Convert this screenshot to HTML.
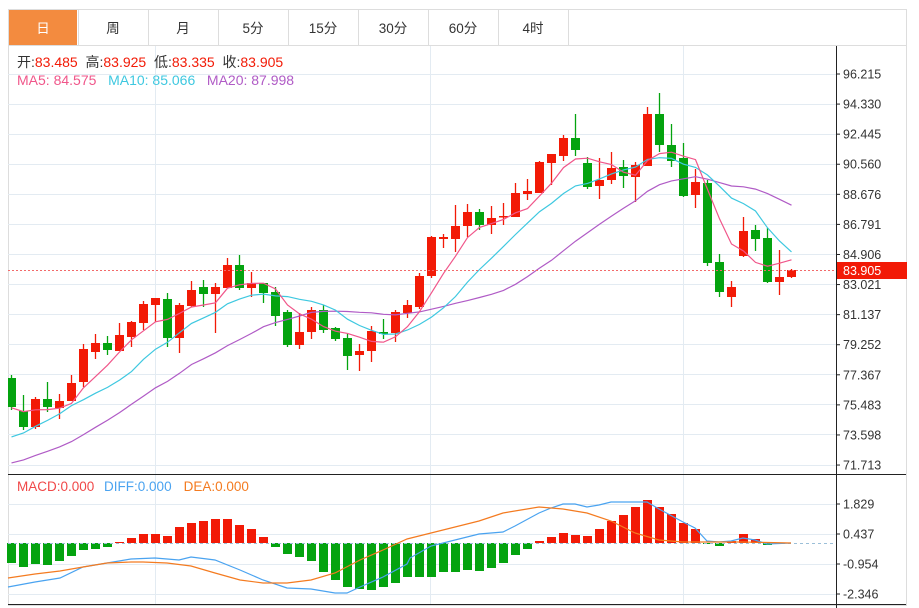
<!DOCTYPE html>
<html><head><meta charset="utf-8"><style>
body{margin:0;background:#fff;width:919px;height:608px;overflow:hidden;font-family:"Liberation Sans","Noto Sans CJK SC",sans-serif}
svg{position:absolute;left:0;top:0}
</style></head><body>
<svg id="s" width="919" height="608" xmlns="http://www.w3.org/2000/svg" font-family="Liberation Sans, Noto Sans CJK SC, sans-serif"></svg>
<script>
const S=document.getElementById('s');let h='';
h+='<rect x="8.5" y="9.5" width="898" height="596" fill="#fff" stroke="#ddd"/>';
h+='<line x1="8" y1="45.5" x2="907" y2="45.5" stroke="#ddd"/>';
const tabs=['日','周','月','5分','15分','30分','60分','4时'];
tabs.forEach((t,i)=>{const x=8+i*70;
 if(i==0)h+='<rect x="9" y="10" width="68" height="35" fill="#f38b3f"/>';
 h+='<line x1="'+(x+70.5)+'" y1="10" x2="'+(x+70.5)+'" y2="45" stroke="#ddd"/>';
 h+='<text x="'+(x+35)+'" y="33" font-size="13.5" text-anchor="middle" fill="'+(i==0?'#fff':'#333')+'">'+t+'</text>';});
[74,104,134,164,194,224,254,284,314,344,374,404,434,465].forEach(y=>h+='<line x1="8" y1="'+(y+.5)+'" x2="836" y2="'+(y+.5)+'" stroke="#e3ebf2"/>');
[504,534,564,594].forEach(y=>h+='<line x1="8" y1="'+(y+.5)+'" x2="836" y2="'+(y+.5)+'" stroke="#e3ebf2"/>');
[155,430,683].forEach(x=>h+='<line x1="'+(x+.5)+'" y1="46" x2="'+(x+.5)+'" y2="605" stroke="#e3ebf2"/>');
h+='<line x1="8" y1="474.5" x2="906" y2="474.5" stroke="#222"/><line x1="8" y1="604.5" x2="906" y2="604.5" stroke="#222"/>';
h+='<line x1="836.5" y1="46" x2="836.5" y2="608" stroke="#222"/>';
const lab=['96.215','94.330','92.445','90.560','88.676','86.791','84.906','83.021','81.137','79.252','77.367','75.483','73.598','71.713'];
lab.forEach((l,i)=>{const y=74+i*30.08;h+='<line x1="836" y1="'+y+'" x2="840" y2="'+y+'" stroke="#222"/><text x="843" y="'+(y+4.5)+'" font-size="12.5" fill="#333">'+l+'</text>';});
[['1.829',504],['0.437',534],['-0.954',564],['-2.346',594]].forEach(a=>{h+='<line x1="836" y1="'+a[1]+'" x2="840" y2="'+a[1]+'" stroke="#222"/><text x="843" y="'+(a[1]+4.5)+'" font-size="12.5" fill="#333">'+a[0]+'</text>';});
const C=[[378,407,375,410,0],[411,427,395,430,0],[399,427,397,429,1],[399,407,382,412,0],[401,408,394,419,1],[383,401,375,401,1],[349,382,344,387,1],[343,352,334,359,1],[343,350,336,355,0],[335,351,323,351,1],[322,337,321,347,1],[304,323,301,330,1],[298,305,298,322,1],[299,338,293,347,0],[305,338,303,353,1],[290,306,281,307,1],[287,294,280,307,0],[287,294,283,333,1],[265,288,258,288,1],[265,288,255,290,0],[283,288,272,297,1],[283,293,283,303,0],[292,316,287,326,0],[312,345,310,347,0],[332,345,313,349,1],[310,332,307,339,1],[310,330,305,333,0],[328,339,327,341,0],[338,356,334,370,0],[351,355,344,371,1],[331,351,326,362,1],[332,334,319,339,0],[312,333,310,342,1],[305,313,300,318,1],[276,307,273,309,1],[237,276,236,278,1],[237,239,234,248,1],[226,239,205,252,1],[212,226,204,237,1],[212,225,209,230,0],[218,225,206,234,1],[216,217,203,225,1],[193,217,183,217,1],[191,194,179,200,1],[162,193,161,193,1],[154,163,154,185,1],[138,156,135,161,1],[138,150,114,156,0],[163,187,157,189,0],[180,186,158,199,1],[168,180,152,184,1],[167,176,160,188,0],[165,177,162,202,1],[114,166,107,166,1],[114,145,93,152,0],[145,161,124,167,0],[158,196,143,197,0],[182,195,169,208,1],[183,263,180,266,0],[262,292,254,297,0],[287,297,281,307,1],[231,256,217,257,1],[230,239,225,251,0],[238,282,228,283,0],[277,282,250,295,1],[270,277,269,278,1]];
const X=i=>11+i*12;
let cl=C.map(c=>c[4]?c[0]:c[1]);
function ma(n,pads){const out=[];for(let i=0;i<cl.length;i++){let s=0;for(let k=i-n+1;k<=i;k++)s+=k>=0?cl[k]:pads(k);out.push(s/n);}return out;}
const pad=k=>k>=-4?408:(k>=-9?466:489);
const lines=[[ma(20,pad),'#b05bc6'],[ma(10,pad),'#3ec8e0'],[ma(5,pad),'#f0568a']];
h+='<defs><clipPath id="cp"><rect x="8" y="46" width="828" height="428"/></clipPath></defs><g clip-path="url(#cp)">';
C.forEach((c,i)=>{const x=X(i),col=c[4]?'#f21a06':'#04a30f';
 h+='<line x1="'+(x+.5)+'" y1="'+c[2]+'" x2="'+(x+.5)+'" y2="'+c[3]+'" stroke="'+col+'" stroke-width="1.3"/>';
 h+='<rect x="'+(x-4)+'" y="'+c[0]+'" width="9" height="'+Math.max(1.5,c[1]-c[0])+'" fill="'+col+'"/>';});
lines.forEach(l=>{h+='<polyline fill="none" stroke="'+l[1]+'" stroke-width="1.2" points="'+l[0].map((v,i)=>(X(i)+.5)+','+v.toFixed(1)).join(' ')+'"/>';});
h+='</g>';
h+='<line x1="8" y1="270.5" x2="836" y2="270.5" stroke="#f26a6a" stroke-dasharray="2,2"/>';
h+='<rect x="837" y="262" width="70" height="17" fill="#f21a06"/><text x="843" y="275" font-size="12.5" fill="#fff">83.905</text>';
h+='<text x="17" y="67" font-size="14" fill="#333" xml:space="preserve">开:<tspan fill="#f21a06">83.485</tspan>  高:<tspan fill="#f21a06">83.925</tspan>  低:<tspan fill="#f21a06">83.335</tspan>  收:<tspan fill="#f21a06">83.905</tspan></text>';
h+='<text x="17" y="85" font-size="14" fill="#f0568a" xml:space="preserve">MA5: 84.575   <tspan fill="#3ec8e0">MA10: 85.066</tspan>   <tspan fill="#b05bc6">MA20: 87.998</tspan></text>';
const M=[563,567,564,565,561,556,550,549,547,542,538,534,534,536,527,523,521,519,519,525,529,537,547,554,557,561,572,580,587,589,590,587,583,577,577,577,572,572,570,571,568,563,555,549,541,537,533,535,536,529,521,515,507,500,507,514,523,529,544,546,541,534,539,545,544,543];
M.forEach((y,i)=>{const z=543,x=X(i);if(Math.abs(y-z)<1)return;const red=y<z;
 h+='<rect x="'+(x-4)+'" y="'+Math.min(y,z)+'" width="9" height="'+Math.abs(y-z)+'" fill="'+(red?'#f21a06':'#04a30f')+'"/>';});
h+='<line x1="8" y1="543.5" x2="836" y2="543.5" stroke="#9bbfd8" stroke-dasharray="3,3"/>';
const D=[[8,587],[35,582],[60,578],[83,567],[107,563],[131,559],[155,558],[167,559],[179,560],[191,557],[215,560],[240,570],[263,580],[287,588],[311,589],[335,593],[347,593],[360,587],[383,577],[407,564],[410,558],[431,546],[455,540],[479,534],[503,532],[515,526],[539,513],[551,508],[563,504],[575,504],[587,507],[599,505],[611,502],[635,502],[647,502],[659,509],[683,522],[695,528],[707,541],[719,542],[731,541],[743,538],[755,540],[767,544],[791,543]];
const E=[[8,578],[35,574],[60,571],[83,567],[107,563],[131,562],[143,562],[167,563],[191,566],[215,573],[240,580],[263,583],[287,583],[311,580],[335,573],[360,560],[383,550],[407,539],[431,533],[455,527],[479,521],[503,513],[527,509],[539,507],[563,509],[587,513],[611,521],[635,533],[659,540],[683,542],[707,542],[743,542],[791,543]];
h+='<polyline fill="none" stroke="#4aa3f0" stroke-width="1.2" points="'+D.map(p=>p.join(',')).join(' ')+'"/>';
h+='<polyline fill="none" stroke="#f47b20" stroke-width="1.2" points="'+E.map(p=>p.join(',')).join(' ')+'"/>';
h+='<text x="17" y="491" font-size="13.5" fill="#f04848">MACD:0.000 <tspan dx="6" fill="#4aa3f0">DIFF:0.000</tspan><tspan dx="12" fill="#f47b20">DEA:0.000</tspan></text>';
S.innerHTML=h;
</script>
</body></html>
